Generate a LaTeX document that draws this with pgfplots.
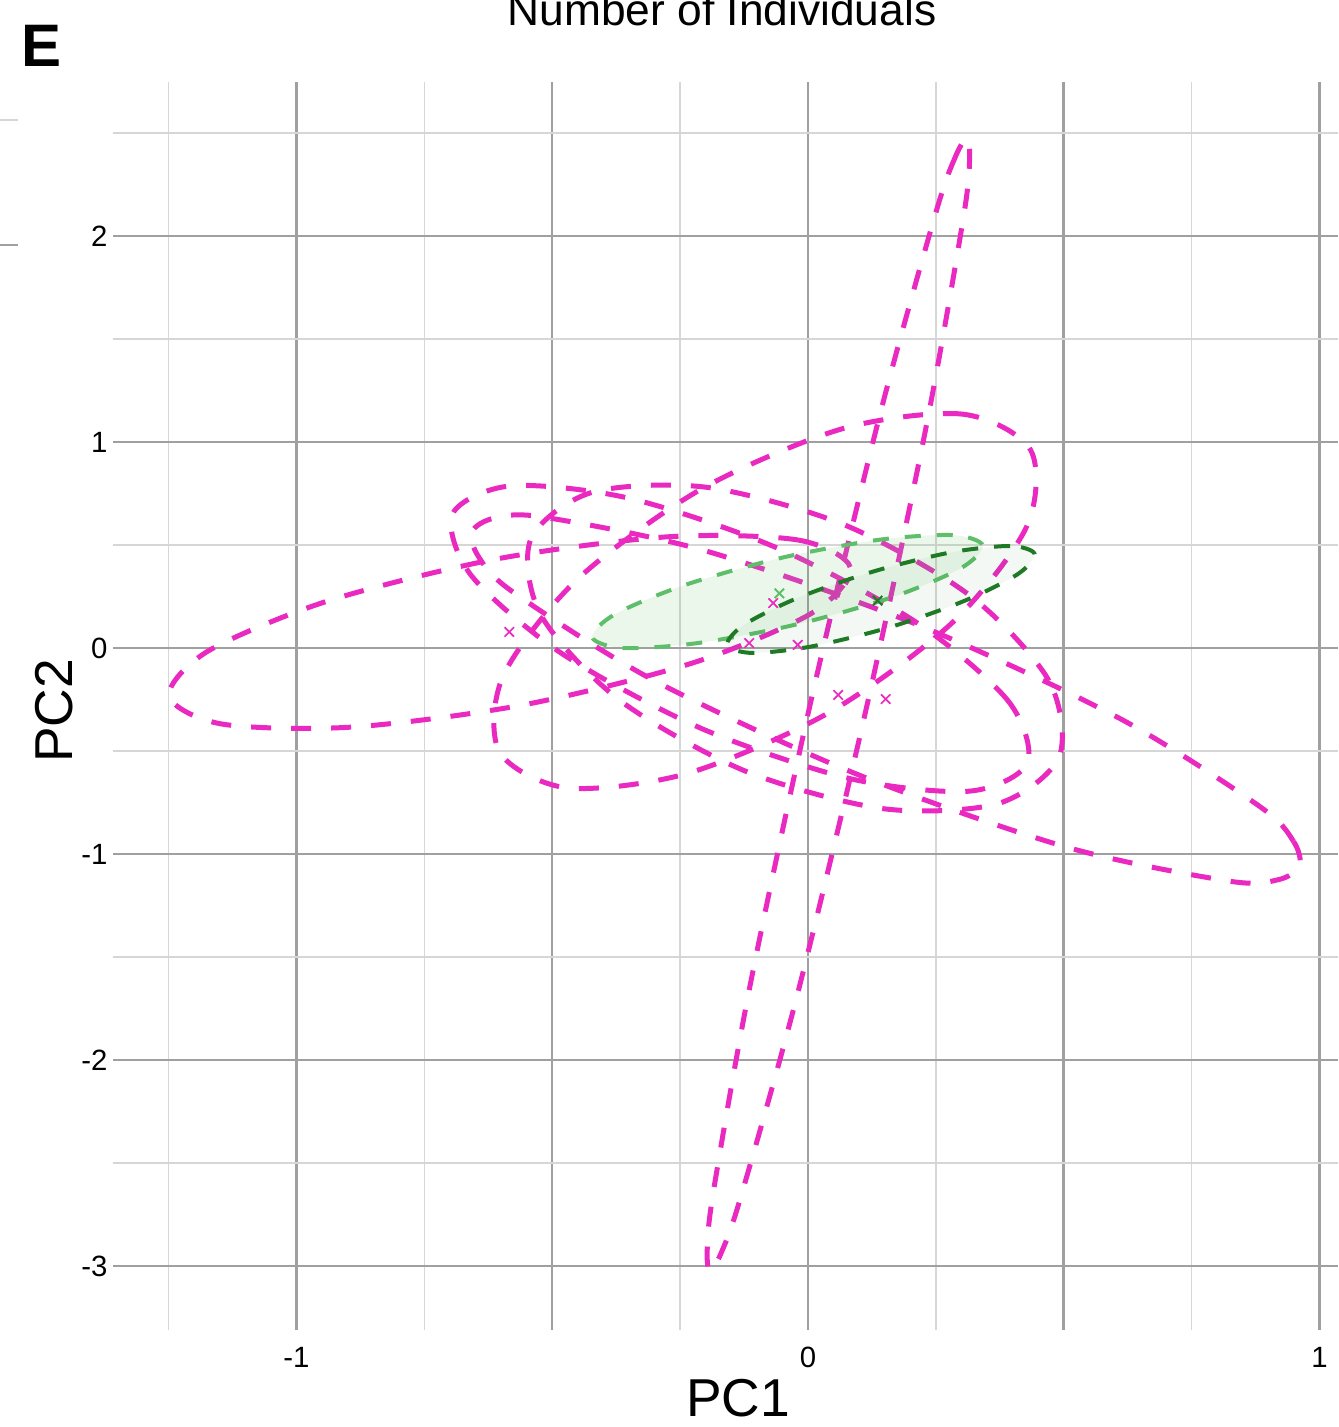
\documentclass[border=0pt]{standalone}
\usepackage{fontspec}
\setmainfont{Liberation Sans}
\usepackage{pgfplots}
\pgfplotsset{compat=1.18}

\definecolor{mag}{RGB}{233,41,192}
\definecolor{lgreen}{RGB}{95,190,105}
\definecolor{dgreen}{RGB}{31,122,37}
\definecolor{lfill}{RGB}{120,200,120}
\definecolor{gmaj}{RGB}{160,160,160}
\definecolor{gmin}{RGB}{214,214,214}

\pgfplotsset{
  magell/.style={mag, line width=1.5pt, dash pattern=on 6pt off 6pt, smooth cycle},
}

\begin{document}
\begin{tikzpicture}
\useasboundingbox (-33.9pt,-29.1pt) rectangle (367.5pt,399pt);
\begin{axis}[
  at={(0pt,0pt)}, anchor=south west,
  scale only axis, width=367.5pt, height=374.4pt,
  xmin=-1.3587, xmax=1.0362, ymin=-3.3107, ymax=2.7476,
  axis line style={draw=none},
  tick style={draw=none},
  xtick={-1,-0.5,0,0.5,1}, xticklabels={-1,,0,,1},
  minor xtick={-1.25,-0.75,-0.25,0.25,0.75},
  ytick={-3,-2,-1,0,1,2}, yticklabels={-3,-2,-1,0,1,2},
  minor ytick={-2.5,-1.5,-0.5,0.5,1.5,2.5},
  grid=both,
  major grid style={draw=gmaj, line width=0.75pt},
  minor grid style={draw=gmin, line width=0.45pt},
  xticklabel style={font=\fontsize{8.8}{10}\selectfont, inner sep=0pt, anchor=north, yshift=-5pt},
  yticklabel style={font=\fontsize{8.8}{10}\selectfont, inner sep=0pt, anchor=east, xshift=-1.5pt},
]

% group ellipses (magenta)
\addplot[magell] coordinates {(0.083,0.389) (-0.019,0.524) (-0.273,0.540) (-0.609,0.432) (-0.939,0.228) (-1.173,-0.015) (-1.249,-0.233) (-1.146,-0.369) (-0.892,-0.384) (-0.556,-0.276) (-0.226,-0.073) (0.008,0.170)};
\addplot[magell] coordinates {(0.311,2.475) (0.289,2.389) (0.251,2.122) (0.140,1.127) (0.007,-0.244) (-0.112,-1.623) (-0.185,-2.640) (-0.197,-2.922) (-0.192,-3.024) (-0.170,-2.938) (-0.132,-2.670) (-0.020,-1.675) (0.113,-0.304) (0.231,1.074) (0.304,2.092) (0.316,2.374)};
\addplot[magell] coordinates {(0.435,0.962) (0.303,1.135) (0.068,1.065) (-0.209,0.771) (-0.452,0.331) (-0.596,-0.136) (-0.603,-0.505) (-0.471,-0.679) (-0.236,-0.609) (0.040,-0.315) (0.283,0.125) (0.428,0.592)};
\addplot[magell] coordinates {(0.961,-1.059) (0.949,-0.938) (0.883,-0.769) (0.608,-0.340) (0.212,0.115) (-0.201,0.472) (-0.519,0.636) (-0.614,0.630) (-0.657,0.564) (-0.644,0.443) (-0.578,0.274) (-0.303,-0.155) (0.093,-0.610) (0.506,-0.967) (0.824,-1.132) (0.919,-1.125)};
\addplot[magell] coordinates {(0.491,-0.528) (0.471,-0.159) (0.318,0.252) (0.073,0.596) (-0.198,0.780) (-0.423,0.755) (-0.542,0.528) (-0.522,0.159) (-0.369,-0.252) (-0.124,-0.596) (0.147,-0.780) (0.372,-0.755)};
\addplot[magell] coordinates {(0.429,-0.558) (0.392,-0.259) (0.214,0.121) (-0.057,0.482) (-0.348,0.726) (-0.581,0.787) (-0.695,0.650) (-0.658,0.351) (-0.480,-0.029) (-0.209,-0.390) (0.082,-0.634) (0.316,-0.695)};

% green ellipses
\addplot[draw=lgreen, fill=lfill, fill opacity=0.15, line width=1.2pt, dash pattern=on 4.8pt off 4.8pt, smooth cycle] coordinates {(0.342,0.497) (0.283,0.548) (0.138,0.525) (-0.055,0.436) (-0.244,0.303) (-0.378,0.163) (-0.422,0.052) (-0.363,0.000) (-0.218,0.023) (-0.025,0.113) (0.164,0.246) (0.298,0.386)};
\addplot[draw=dgreen, fill=dgreen, fill opacity=0.05, line width=1.2pt, dash pattern=on 4.8pt off 4.8pt, smooth cycle] coordinates {(0.443,0.457) (0.395,0.495) (0.279,0.464) (0.126,0.370) (-0.022,0.241) (-0.126,0.111) (-0.158,0.014) (-0.109,-0.024) (0.006,0.007) (0.159,0.100) (0.307,0.230) (0.411,0.360)};

% centroids
\addplot[only marks, mark=x, mark size=2pt, mag, line width=0.5pt] coordinates {(-0.584,0.078) (-0.068,0.218) (-0.115,0.024) (-0.020,0.015) (0.059,-0.228) (0.152,-0.248)};
\addplot[only marks, mark=x, mark size=2pt, lgreen, line width=0.6pt] coordinates {(-0.056,0.265)};
\addplot[only marks, mark=x, mark size=2pt, dgreen, line width=0.6pt] coordinates {(0.136,0.230)};
\end{axis}

\node[font=\fontsize{13.3}{15}\selectfont, anchor=base] at (182.7pt,391.2pt) {Number of Individuals};
\node[font=\fontsize{18}{20}\selectfont\bfseries, anchor=base] at (-21.3pt,378.9pt) {E};
\node[font=\fontsize{16}{18}\selectfont, anchor=base] at (187.5pt,-26.1pt) {PC1};
\node[font=\fontsize{16}{18}\selectfont, anchor=base, rotate=90] at (-12pt,185.7pt) {PC2};
\draw[gmin, line width=0.45pt] (-33.9pt,363pt) -- (-28.5pt,363pt);
\draw[gmaj, line width=0.75pt] (-33.9pt,325.5pt) -- (-28.5pt,325.5pt);
\end{tikzpicture}
\end{document}
